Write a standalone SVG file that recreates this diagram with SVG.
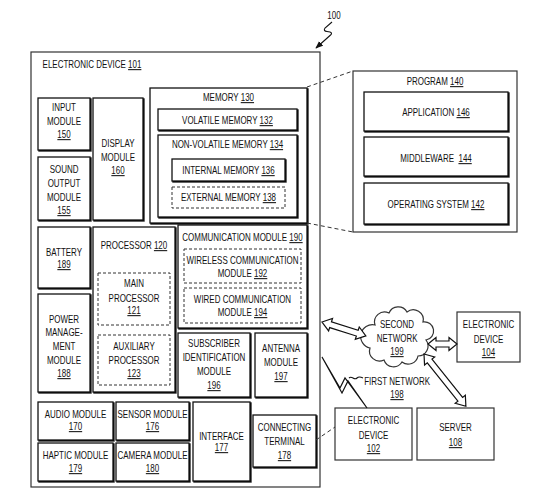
<svg xmlns="http://www.w3.org/2000/svg" width="547" height="501" viewBox="0 0 547 501">
<defs>
<style>
.t{font-family:"Liberation Sans",Arial,sans-serif;font-size:10.5px;text-anchor:middle;fill:#111;transform-box:fill-box;transform-origin:center;transform:scaleX(.76)}
.u{text-decoration:underline}
.b{fill:#fff;stroke:#111;stroke-width:1.3;filter:url(#sh)}
.p{fill:#fff;stroke:#333;stroke-width:1.2}
.d{fill:none;stroke:#333;stroke-width:1;stroke-dasharray:3 2}
.c{fill:none;stroke:#333;stroke-width:1;stroke-dasharray:4 3}
.a{fill:#fff;stroke:#111;stroke-width:1.2;stroke-linejoin:miter}
.l{fill:none;stroke:#111;stroke-width:1.1}
</style>
<filter id="sh" x="-10%" y="-10%" width="125%" height="125%"><feDropShadow dx="1" dy="1" stdDeviation="0" flood-color="#111"/></filter>
<marker id="ah" viewBox="0 0 10 10" refX="9" refY="5" markerWidth="7" markerHeight="7" orient="auto"><path d="M0,1 L10,5 L0,9 z" fill="#111"/></marker>
</defs>
<rect width="547" height="501" fill="#fff"/>

<g id="label100">
<text class="t" x="334" y="19">100</text>
<path class="l" d="M332,22 L325,28 Q323,31 327,31.5 L330,32 Q333,33 330,35.5 L316,48" marker-end="url(#ah)"/>
</g>

<g id="n101">
<rect class="p" x="31" y="52" width="289" height="435"/>
<text class="t" x="92" y="68">ELECTRONIC DEVICE <tspan class="u">101</tspan></text>
</g>

<g id="n150">
<rect class="b" x="38" y="98" width="52" height="52"/>
<text class="t" x="64" y="111">INPUT</text>
<text class="t" x="64" y="125">MODULE</text>
<text class="t" x="64" y="138"><tspan class="u">150</tspan></text>
</g>

<g id="n155">
<rect class="b" x="38" y="157" width="52" height="63"/>
<text class="t" x="64" y="173">SOUND</text>
<text class="t" x="64" y="187">OUTPUT</text>
<text class="t" x="64" y="201">MODULE</text>
<text class="t" x="64" y="214"><tspan class="u">155</tspan></text>
</g>

<g id="n160">
<rect class="b" x="93" y="98" width="50" height="122"/>
<text class="t" x="118" y="147">DISPLAY</text>
<text class="t" x="118" y="161">MODULE</text>
<text class="t" x="118" y="174"><tspan class="u">160</tspan></text>
</g>

<g id="n130">
<rect class="b" x="150" y="88" width="157" height="135"/>
<text class="t" x="228.5" y="101">MEMORY <tspan class="u">130</tspan></text>
</g>
<g id="n132">
<rect class="b" x="158" y="109" width="139" height="21"/>
<text class="t" x="227.5" y="124">VOLATILE MEMORY <tspan class="u">132</tspan></text>
</g>
<g id="n134">
<rect class="b" x="158" y="135" width="139" height="82"/>
<text class="t" x="227.5" y="148">NON-VOLATILE MEMORY <tspan class="u">134</tspan></text>
</g>
<g id="n136">
<rect class="b" x="172" y="159" width="113" height="22"/>
<text class="t" x="228.5" y="174">INTERNAL MEMORY <tspan class="u">136</tspan></text>
</g>
<g id="n138">
<rect class="d" x="172" y="187" width="113" height="21"/>
<text class="t" x="228.5" y="201">EXTERNAL MEMORY <tspan class="u">138</tspan></text>
</g>

<g id="n140">
<rect class="p" x="353" y="71" width="164" height="161"/>
<text class="t" x="435" y="85">PROGRAM <tspan class="u">140</tspan></text>
</g>
<g id="n146">
<rect class="b" x="364" y="92" width="144" height="39"/>
<text class="t" x="436" y="116">APPLICATION <tspan class="u">146</tspan></text>
</g>
<g id="n144">
<rect class="b" x="364" y="137" width="144" height="39"/>
<text class="t" x="436" y="162">MIDDLEWARE <tspan class="u" dx="3">144</tspan></text>
</g>
<g id="n142">
<rect class="b" x="364" y="183" width="144" height="41"/>
<text class="t" x="436" y="208">OPERATING SYSTEM <tspan class="u">142</tspan></text>
</g>

<g id="n189">
<rect class="b" x="38" y="227" width="52" height="61"/>
<text class="t" x="64" y="256">BATTERY</text>
<text class="t" x="64" y="268"><tspan class="u">189</tspan></text>
</g>

<g id="n188">
<rect class="b" x="38" y="294" width="52" height="98"/>
<text class="t" x="64" y="323">POWER</text>
<text class="t" x="64" y="336">MANAGE-</text>
<text class="t" x="64" y="350">MENT</text>
<text class="t" x="64" y="364">MODULE</text>
<text class="t" x="64" y="377"><tspan class="u">188</tspan></text>
</g>

<g id="n120">
<rect class="b" x="93" y="227" width="82" height="165"/>
<text class="t" x="134" y="249">PROCESSOR <tspan class="u">120</tspan></text>
</g>
<g id="n121">
<rect class="d" x="98" y="273" width="72" height="52"/>
<text class="t" x="134" y="287">MAIN</text>
<text class="t" x="134" y="302">PROCESSOR</text>
<text class="t" x="134" y="314"><tspan class="u">121</tspan></text>
</g>
<g id="n123">
<rect class="d" x="98" y="335" width="72" height="50"/>
<text class="t" x="134" y="350">AUXILIARY</text>
<text class="t" x="134" y="364">PROCESSOR</text>
<text class="t" x="134" y="377"><tspan class="u">123</tspan></text>
</g>

<g id="n190">
<rect class="b" x="178" y="225" width="129" height="103"/>
<text class="t" x="242.5" y="241">COMMUNICATION MODULE <tspan class="u">190</tspan></text>
</g>
<g id="n192">
<rect class="d" x="184" y="249" width="117" height="34"/>
<text class="t" x="242.5" y="264">WIRELESS COMMUNICATION</text>
<text class="t" x="242.5" y="277">MODULE <tspan class="u">192</tspan></text>
</g>
<g id="n194">
<rect class="d" x="184" y="288" width="117" height="35"/>
<text class="t" x="242.5" y="303">WIRED COMMUNICATION</text>
<text class="t" x="242.5" y="316">MODULE <tspan class="u">194</tspan></text>
</g>

<g id="n196">
<rect class="b" x="178" y="333" width="72" height="64"/>
<text class="t" x="214" y="347">SUBSCRIBER</text>
<text class="t" x="214" y="361">IDENTIFICATION</text>
<text class="t" x="214" y="375">MODULE</text>
<text class="t" x="214" y="389"><tspan class="u">196</tspan></text>
</g>

<g id="n197">
<rect class="b" x="255" y="333" width="52" height="64"/>
<text class="t" x="281" y="352">ANTENNA</text>
<text class="t" x="281" y="366">MODULE</text>
<text class="t" x="281" y="380"><tspan class="u">197</tspan></text>
</g>

<g id="n170">
<rect class="b" x="38" y="402" width="75" height="38"/>
<text class="t" x="75.5" y="418">AUDIO MODULE</text>
<text class="t" x="75.5" y="430"><tspan class="u">170</tspan></text>
</g>
<g id="n176">
<rect class="b" x="116" y="402" width="73" height="38"/>
<text class="t" x="152.5" y="418">SENSOR MODULE</text>
<text class="t" x="152.5" y="430"><tspan class="u">176</tspan></text>
</g>
<g id="n179">
<rect class="b" x="38" y="443" width="75" height="38"/>
<text class="t" x="75.5" y="459">HAPTIC MODULE</text>
<text class="t" x="75.5" y="472"><tspan class="u">179</tspan></text>
</g>
<g id="n180">
<rect class="b" x="116" y="443" width="73" height="38"/>
<text class="t" x="152.5" y="459">CAMERA MODULE</text>
<text class="t" x="152.5" y="472"><tspan class="u">180</tspan></text>
</g>
<g id="n177">
<rect class="b" x="193" y="402" width="57" height="79"/>
<text class="t" x="221.5" y="440">INTERFACE</text>
<text class="t" x="221.5" y="451"><tspan class="u">177</tspan></text>
</g>
<g id="n178">
<rect class="b" x="253" y="415" width="63" height="52"/>
<text class="t" x="284.5" y="431">CONNECTING</text>
<text class="t" x="284.5" y="445">TERMINAL</text>
<text class="t" x="284.5" y="459"><tspan class="u">178</tspan></text>
</g>

<g id="n199">
<path class="p" d="M375,325 a10,10 0 0 1 14,-12 a10,10 0 0 1 18,-1 a10,10 0 0 1 16,10 a9,9 0 0 1 3,18 a10,10 0 0 1 -8,16 a10,10 0 0 1 -16,6 a10,10 0 0 1 -18,-2 a10,10 0 0 1 -14,-12 a10,10 0 0 1 5,-23 z"/>
<text class="t" x="397" y="328">SECOND</text>
<text class="t" x="397" y="342">NETWORK</text>
<text class="t" x="397" y="355"><tspan class="u">199</tspan></text>
</g>

<g id="n104">
<rect class="p" x="457" y="312" width="63" height="50"/>
<text class="t" x="488.5" y="328">ELECTRONIC</text>
<text class="t" x="488.5" y="343">DEVICE</text>
<text class="t" x="488.5" y="356"><tspan class="u">104</tspan></text>
</g>

<g id="n102">
<rect class="p" x="335" y="408" width="77" height="52"/>
<text class="t" x="373.5" y="424">ELECTRONIC</text>
<text class="t" x="373.5" y="439">DEVICE</text>
<text class="t" x="373.5" y="452"><tspan class="u">102</tspan></text>
</g>

<g id="n108">
<rect class="p" x="417" y="408" width="77" height="52"/>
<text class="t" x="455.5" y="431">SERVER</text>
<text class="t" x="455.5" y="446"><tspan class="u">108</tspan></text>
</g>

<g id="n198">
<text class="t" x="397" y="385">FIRST NETWORK</text>
<text class="t" x="397" y="398"><tspan class="u">198</tspan></text>
</g>

<g id="connectors">
<path class="c" d="M307,87 L353,71"/>
<path class="c" d="M307,223 L353,232"/>
<path class="c" d="M316,440 L335,427"/>
<polygon class="a" transform="translate(322,322) rotate(17.6)" points="0,0 9,-6.5 9,-3 37,-3 37,-6.5 46,0 37,6.5 37,3 9,3 9,6.5"/>
<polygon class="a" transform="translate(428,344)" points="0,0 8,-6.5 8,-3 21,-3 21,-6.5 29,0 21,6.5 21,3 8,3 8,6.5"/>
<polygon class="a" transform="translate(424,354) rotate(51.3)" points="0,0 9,-6.5 9,-3 58,-3 58,-6.5 67,0 58,6.5 58,3 9,3 9,6.5"/>
<polygon class="a" points="322,357 342,393 348,381 367,408 345,378 340,388"/>
<path class="l" d="M349,378 c3,-3 5,3 8,0 c2,-2 4,-1 6,0"/>
</g>
</svg>
